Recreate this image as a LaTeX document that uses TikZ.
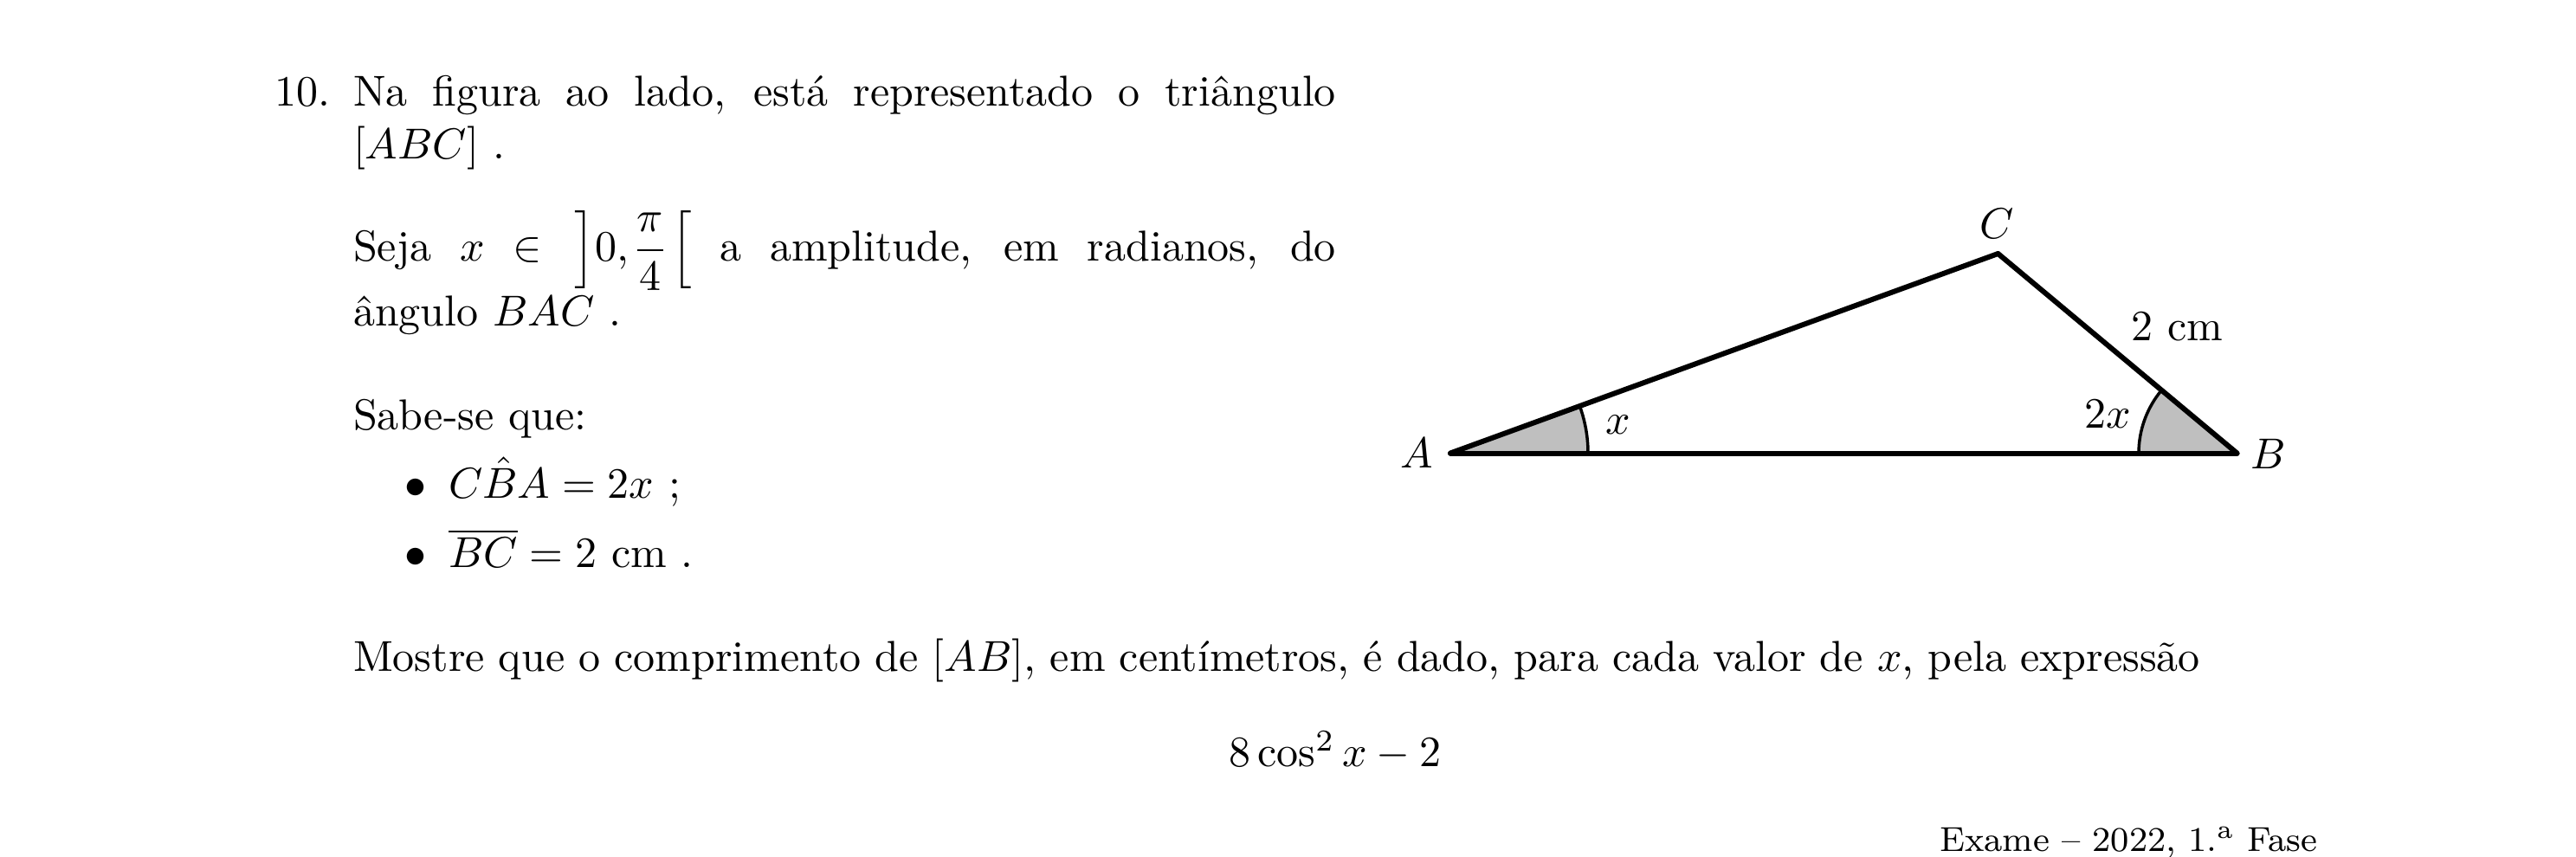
\documentclass[tikz,border=0pt]{standalone}
\usepackage{amsmath}
\tikzset{
  txt/.style={anchor=base west,inner sep=0pt,outer sep=0pt},
  txtr/.style={anchor=base east,inner sep=0pt,outer sep=0pt},
  side/.style={line width=1.2pt,line join=round,line cap=round},
  sector/.style={fill=black!25,draw=none},
  arcline/.style={line width=0.7pt}
}
\newcommand{\jline}[1]{\makebox[227.0pt][s]{#1}}
\begin{document}
\begin{tikzpicture}[x=1pt,y=-1pt]
\useasboundingbox (0,0) rectangle (595,198);
% text
\node[txt] (num) at (63.4,24.5) {10.};
\node[txt] (l1) at (81.6,24.5) {\jline{Na figura ao lado, está representado o triângulo}};
\node[txt] (l2) at (81.6,36.7) {$[ABC]$ .};
\node[txt] (l3) at (81.6,60.3) {\jline{Seja $x$ $\in$ \kern1.1pt$\left]0{,}\kern0.7pt\dfrac{\pi}{4}\kern0.6pt\right[$ a amplitude, em radianos, do}};
\node[txt] (l4) at (81.6,75.3) {ângulo $BAC$ .};
\node[txt] (l5) at (81.6,99.3) {Sabe-se que:};
\node[txt] (b1) at (93.4,115.0) {$\bullet$};
\node[txt] (i1) at (103.6,115.0) {$C\hat{B}A=2x$ ;};
\node[txt] (b2) at (93.4,131.0) {$\bullet$};
\node[txt] (i2) at (103.6,131.0) {$\overline{BC}=2$ cm .};
\node[txt] (l6) at (81.6,155.1) {\makebox[426.6pt][s]{Mostre que o comprimento de $[AB]$, em centímetros, é dado, para cada valor de $x$, pela expressão}};
\node[txt] (ex) at (283.8,177.1) {$8\cos^2 x-2$};
\node[txtr] (src) at (535.3,196.6) {\footnotesize Exame -- 2022, 1.\textsuperscript{a} Fase};
% triangle
\coordinate (A) at (335.0,104.7);
\coordinate (B) at (516.7,104.7);
\coordinate (C) at (461.5,58.6);
\fill[sector] (A) -- (366.8,104.7) arc[start angle=0,end angle=-20.1,radius=31.8] -- cycle;
\fill[sector] (B) -- (494.0,104.7) arc[start angle=180,end angle=220,radius=22.7] -- cycle;
\draw[arcline] (366.8,104.7) arc[start angle=0,end angle=-20.1,radius=31.8];
\draw[arcline] (494.0,104.7) arc[start angle=180,end angle=220,radius=22.7];
\draw[side] (A) -- (B);
\draw[side] (B) -- (C);
\draw[side] (C) -- (A);
% labels
\node[txt] (la) at (323.4,108.0) {$A$};
\node[txt] (lb) at (519.9,108.3) {$B$};
\node[txt] (lc) at (457.2,55.0) {$C$};
\node[txt] (lcm) at (492.3,78.6) {2 cm};
\node[txt] (l2x) at (481.5,98.8) {$2x$};
\node[txt] (lx) at (370.8,100.3) {$x$};
\end{tikzpicture}
\end{document}
